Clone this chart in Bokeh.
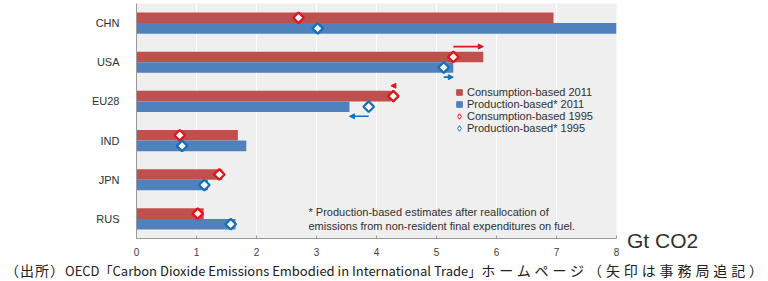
import math
from bokeh.plotting import figure
from bokeh.models import (ColumnDataSource, FactorRange, Label, Legend, LegendItem,
                          Arrow, NormalHead, FixedTicker, Div)
from bokeh.layouts import row, column
from bokeh.transform import dodge
from bokeh.embed import file_html
from bokeh.resources import INLINE

# ---- data (Gt CO2) ----
countries = ["CHN", "USA", "EU28", "IND", "JPN", "RUS"]
consumption_2011 = [6.95, 5.78, 4.24, 1.69, 1.43, 1.12]
production_2011 = [8.0, 5.28, 3.55, 1.83, 1.19, 1.65]
consumption_1995 = [2.70, 5.28, 4.28, 0.72, 1.38, 1.02]
production_1995 = [3.02, 5.12, 3.87, 0.76, 1.13, 1.57]
arrow_countries = ["USA", "EU28"]
x_ticks = [0, 1, 2, 3, 4, 5, 6, 7, 8]
legend_labels = ["Consumption-based 2011", "Production-based* 2011",
                 "Consumption-based 1995", "Production-based* 1995"]

RED_BAR = "#c0504d"
BLUE_BAR = "#4f81bd"
RED_MK = "#e3121b"
BLUE_MK = "#1670b8"
FONT = "Liberation Sans"

src = ColumnDataSource(dict(cat=countries, c11=consumption_2011, p11=production_2011,
                            c95=consumption_1995, p95=production_1995))

p = figure(width=620, height=262, x_range=(0, 8),
           y_range=FactorRange(factors=list(reversed(countries))),
           output_backend="svg", toolbar_location=None,
           min_border_left=136, min_border_right=4, min_border_top=3, min_border_bottom=24)
p.background_fill_color = "#efefef"
p.border_fill_color = "white"
p.outline_line_color = None

# bars
p.hbar(y=dodge("cat", 0.135, range=p.y_range), left=0, right="c11", height=0.27,
       source=src, fill_color=RED_BAR, line_color=None)
p.hbar(y=dodge("cat", -0.135, range=p.y_range), left=0, right="p11", height=0.27,
       source=src, fill_color=BLUE_BAR, line_color=None)

# arrows (secretariat additions): 1995 -> 2011
ai = [countries.index(c) for c in arrow_countries]
asrc = ColumnDataSource(dict(cat=arrow_countries,
                             c95=[consumption_1995[i] for i in ai],
                             c11=[consumption_2011[i] for i in ai],
                             p95=[production_1995[i] for i in ai],
                             p11=[production_2011[i] for i in ai]))
p.add_layout(Arrow(x_start="c95", x_end="c11",
                   y_start=dodge("cat", 0.40, range=p.y_range),
                   y_end=dodge("cat", 0.40, range=p.y_range),
                   source=asrc, line_color=RED_MK, line_width=1.6,
                   end=NormalHead(size=5, fill_color=RED_MK, line_color=RED_MK)))
p.add_layout(Arrow(x_start="p95", x_end="p11",
                   y_start=dodge("cat", -0.38, range=p.y_range),
                   y_end=dodge("cat", -0.38, range=p.y_range),
                   source=asrc, line_color=BLUE_MK, line_width=1.6,
                   end=NormalHead(size=5, fill_color=BLUE_MK, line_color=BLUE_MK)))

# 1995 diamonds
p.scatter(x="c95", y=dodge("cat", 0.135, range=p.y_range), source=src, marker="square",
          angle=math.pi / 4, size=7.5, fill_color="white", line_color=RED_MK, line_width=2.3)
p.scatter(x="p95", y=dodge("cat", -0.135, range=p.y_range), source=src, marker="square",
          angle=math.pi / 4, size=7.5, fill_color="white", line_color=BLUE_MK, line_width=2.3)

# legend: one single-item legend per row (tight row pitch), proxy renderers never drawn
proxy = ColumnDataSource(dict(x=[float("nan")], y=[countries[0]]))
proxies = [
    p.scatter(x="x", y="y", source=proxy, marker="square", fill_color=RED_BAR, line_color=RED_BAR),
    p.scatter(x="x", y="y", source=proxy, marker="square", fill_color=BLUE_BAR, line_color=BLUE_BAR),
    p.scatter(x="x", y="y", source=proxy, marker="diamond", fill_color="white",
              line_color=RED_MK, line_width=1),
    p.scatter(x="x", y="y", source=proxy, marker="diamond", fill_color="white",
              line_color=BLUE_MK, line_width=1),
]
row_offsets = [139.5, 127.5, 115.5, 103.5]
for lab, rnd, yoff in zip(legend_labels, proxies, row_offsets):
    p.add_layout(Legend(items=[LegendItem(label=lab, renderers=[rnd])],
                        location=(316, yoff), orientation="vertical",
                        glyph_width=14, glyph_height=14, padding=0, margin=0,
                        label_standoff=1, label_text_font=FONT, label_text_font_size="11px",
                        label_text_color="#303030", label_height=10,
                        border_line_color=None, background_fill_alpha=0))

# axes
p.xaxis.ticker = FixedTicker(ticks=x_ticks)
p.xaxis.axis_line_color = "#9a9a9a"
p.xaxis.major_tick_line_color = "#9a9a9a"
p.xaxis.major_tick_in = 3
p.xaxis.major_tick_out = 0
p.xaxis.minor_tick_line_color = None
p.xaxis.major_label_text_font = FONT
p.xaxis.major_label_text_font_size = "10px"
p.xaxis.major_label_text_color = "#404040"
p.xaxis.major_label_standoff = 9

p.yaxis.axis_line_color = "#9a9a9a"
p.yaxis.major_tick_line_color = None
p.yaxis.major_label_text_font = FONT
p.yaxis.major_label_text_font_size = "11px"
p.yaxis.major_label_text_color = "#303030"
p.yaxis.major_label_standoff = 11

p.xgrid.grid_line_color = "white"
p.xgrid.grid_line_alpha = 0.9
p.xgrid.ticker = FixedTicker(ticks=x_ticks)
p.ygrid.grid_line_color = None

# footnote (canvas units: origin at the figure's top-left)
p.add_layout(Label(x=308, y=211, x_units="canvas", y_units="canvas",
                   text="* Production-based estimates after reallocation of",
                   text_font=FONT, text_font_size="11px", text_color="#303030",
                   text_baseline="middle"))
p.add_layout(Label(x=308, y=225, x_units="canvas", y_units="canvas",
                   text="emissions from non-resident final expenditures on fuel.",
                   text_font=FONT, text_font_size="11px", text_color="#303030",
                   text_baseline="middle"))

# unit label to the right of the axis
unit_div = Div(text='<div style="position:relative; top:229px; left:7px; white-space:nowrap; '
                    'font-family:\'Liberation Sans\'; font-size:21px; line-height:24px; color:#303030;">Gt CO2</div>',
               width=148, height=262, margin=0)

# source caption
caption_div = Div(text='<div style="padding-left:5px; text-align:left; white-space:nowrap; '
                       'font-family:\'Noto Sans CJK JP\'; font-size:13px; line-height:17px; color:#202020;">'
                       '<span style="font-size:14px; letter-spacing:1px;">（出所）</span>'
                       'OECD「Carbon Dioxide Emissions Embodied in International Trade」'
                       '<span style="font-size:14px; letter-spacing:3.9px;">ホームページ（矢印は事務局追記）</span></div>',
                  width=768, height=19, margin=0)

layout = column(row(p, unit_div, spacing=0), caption_div, spacing=0)

open("out.html", "w").write(file_html(layout, INLINE))
